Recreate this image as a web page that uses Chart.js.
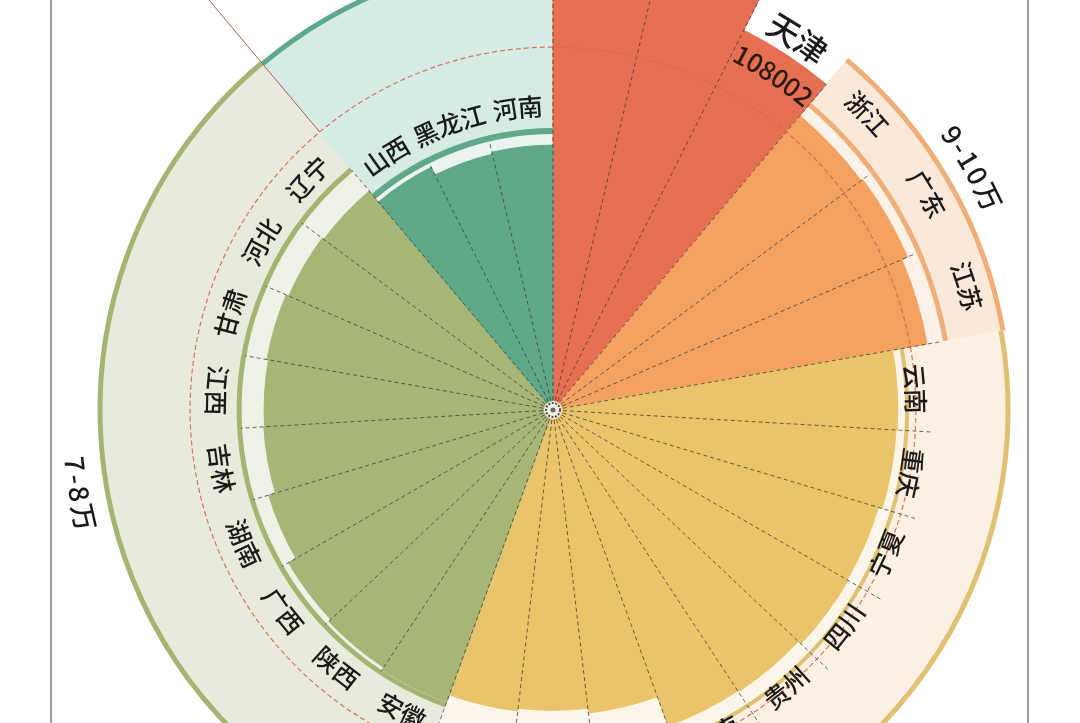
<!DOCTYPE html>
<html><head><meta charset="utf-8">
<script src="https://cdn.jsdelivr.net/npm/chart.js@4.4.1/dist/chart.umd.min.js"></script>
<style>
html,body{margin:0;padding:0;width:1080px;height:723px;overflow:hidden;background:#fff;}
#wrap{position:absolute;left:0;top:-143px;width:1106px;height:1106px;}
.vline{position:absolute;top:0;width:2px;height:723px;background:#9c9c9c;}
</style></head>
<body>
<div id="wrap"><canvas id="c" width="1106" height="1106"></canvas></div>
<div class="vline" style="left:50px"></div>
<div class="vline" style="left:1027px"></div>
<script>
// ---- data ----
const provinces = ['北京','上海','天津','浙江','广东','江苏','云南','重庆','宁夏','四川','贵州','海南','湖北','山东','福建','安徽','陕西','广西','湖南','吉林','江西','甘肃','河北','辽宁','山西','黑龙江','河南'];
const wages = [178178,174678,108002,97600,98100,96500,87600,87300,86300,86600,85700,85400,77500,76300,77000,79000,78300,77600,75400,73600,73400,73800,73100,72600,69000,66800,67300];
const groupOf = [0,0,0,1,1,1,2,2,2,2,2,2,2,2,2,3,3,3,3,3,3,3,3,3,4,4,4];
const groupNames = ['10万以上','9-10万','8-9万','7-8万','6-7万'];
const groupTrack = [0,101000,89700,79500,70600];     // inner ring of each group band
const groupBand = [0,116100,115600,115100,114800];   // outer ring of each group band
const groupLineTo = [0,99600,96500,79500,70100];     // reach of the separators
const averageLine = 92200;
const scaleMax = 140500;

// ---- styles ----
const fillColors = ['#e76f51','#f4a261','#e9c46a','#a6b676','#5fa887'];
const trackColors = ['#ffffff','#fdf2e8','#fcf5ea','#eff1e7','#e9f4f1'];
const bandColors = ['#ffffff','#fae8d9','#fbf0e1','#e8ebdc','#d6eae6'];
const arcColors = ['#e76f51','#efae78','#e0c072','#a4b572','#5fa98a'];
const labelR = [null,432,363,337,304];
const FONT = '"Noto Sans CJK SC","Noto Sans",sans-serif';

function arcText(ctx, cx, cy, text, thetaDeg, r, size, color, spacing) {
  ctx.save();
  ctx.font = '500 ' + size + 'px ' + FONT;
  ctx.fillStyle = color;
  ctx.textAlign = 'center';
  ctx.textBaseline = 'middle';
  const th = ((thetaDeg % 360) + 360) % 360;
  const flip = th > 105 && th < 280;
  const chars = [...text];
  const w = chars.map(ch => ctx.measureText(ch).width);
  const total = w.reduce((a, b) => a + b, 0) + spacing * (chars.length - 1);
  const dir = flip ? -1 : 1;
  let s = -total / 2;
  chars.forEach((ch, i) => {
    const mid = s + w[i] / 2;
    const ang = th * Math.PI / 180 + dir * mid / r;
    const x = cx + r * Math.sin(ang), y = cy - r * Math.cos(ang);
    ctx.save();
    ctx.translate(x, y);
    ctx.rotate(ang + (flip ? Math.PI : 0));
    ctx.fillText(ch, 0, 0);
    ctx.restore();
    s += w[i] + spacing;
  });
  ctx.restore();
}

const decor = {
  id: 'decor',
  afterDatasetsDraw(chart) {
    const ctx = chart.ctx;
    const s = chart.scales.r;
    const cx = s.xCenter, cy = s.yCenter;
    const R = v => s.getDistanceFromCenterForValue(v);
    const n = provinces.length;
    const step = 2 * Math.PI / n;
    const a0 = -Math.PI / 2;
    const groups = [];
    groupOf.forEach((g, i) => {
      if (!groups[g]) groups[g] = { start: i, end: i + 1 };
      else groups[g].end = i + 1;
    });
    ctx.save();
    // rings
    groups.forEach((gr, g) => {
      if (g === 0) return;
      const sa = a0 + gr.start * step, ea = a0 + gr.end * step;
      ctx.strokeStyle = arcColors[g];
      ctx.lineWidth = g === 4 ? 6 : (g === 2 ? 4 : 5);
      ctx.beginPath(); ctx.arc(cx, cy, R(groupTrack[g]) + 1, sa, ea); ctx.stroke();
      ctx.lineWidth = 5;
      ctx.beginPath(); ctx.arc(cx, cy, R(groupBand[g]), sa, ea); ctx.stroke();
    });
    // separators
    const reach = j => groupOf[j] === 0 ? R(wages[j]) : R(groupLineTo[groupOf[j]]);
    ctx.setLineDash([4, 3]);
    ctx.lineWidth = 1;
    ctx.strokeStyle = 'rgba(55,55,55,0.75)';
    for (let i = 0; i < n; i++) {
      const prev = (i - 1 + n) % n;
      const rr = Math.max(reach(prev), reach(i));
      const a = a0 + i * step;
      ctx.beginPath();
      ctx.moveTo(cx + 10 * Math.cos(a), cy + 10 * Math.sin(a));
      ctx.lineTo(cx + rr * Math.cos(a), cy + rr * Math.sin(a));
      ctx.stroke();
    }
    // average circle
    ctx.setLineDash([5, 3]);
    ctx.strokeStyle = 'rgba(222,100,80,0.9)';
    ctx.lineWidth = 1.2;
    ctx.beginPath(); ctx.arc(cx, cy, R(averageLine), 0, 2 * Math.PI); ctx.stroke();
    ctx.setLineDash([]);
    // leader line between groups
    const la = a0 + groups[4].start * step;
    ctx.strokeStyle = '#b65a4c';
    ctx.lineWidth = 1;
    ctx.beginPath();
    ctx.moveTo(cx + R(averageLine) * Math.cos(la), cy + R(averageLine) * Math.sin(la));
    ctx.lineTo(cx + R(scaleMax * 1.6) * Math.cos(la), cy + R(scaleMax * 1.6) * Math.sin(la));
    ctx.stroke();
    // center
    ctx.fillStyle = '#f3efe6';
    ctx.beginPath(); ctx.arc(cx, cy, 9, 0, 2 * Math.PI); ctx.fill();
    ctx.setLineDash([2, 1.5]);
    ctx.strokeStyle = '#4a4a4a'; ctx.lineWidth = 2;
    ctx.beginPath(); ctx.arc(cx, cy, 7, 0, 2 * Math.PI); ctx.stroke();
    ctx.setLineDash([]);
    ctx.fillStyle = '#666';
    ctx.beginPath(); ctx.arc(cx, cy, 2.5, 0, 2 * Math.PI); ctx.fill();
    ctx.restore();
    // labels
    provinces.forEach((p, i) => {
      const g = groupOf[i];
      const th = (i + 0.5) * 360 / n;
      if (g === 0) {
        arcText(ctx, cx, cy, p, th, R(wages[i]) + 20, 32, '#1a1a1a', 0);
        arcText(ctx, cx, cy, String(wages[i]), th, R(wages[i]) - 23, 26, '#2a1a14', 0);
      } else {
        arcText(ctx, cx, cy, p, th, labelR[g], 25, '#1a1a1a', 0);
      }
    });
    groups.forEach((gr, g) => {
      const th = (gr.start + gr.end) / 2 * 360 / n;
      const r = g === 0 ? R(wages[0]) + 60 : R(groupBand[g]) + 28;
      arcText(ctx, cx, cy, groupNames[g], th, r, 27, '#1a1a1a', 2.5);
    });
  }
};

const colorBy = arr => wages.map((_, i) => arr[groupOf[i]]);
new Chart(document.getElementById('c'), {
  type: 'polarArea',
  data: {
    labels: provinces,
    datasets: [
      { label: '平均工资', data: wages, backgroundColor: colorBy(fillColors), borderColor: colorBy(fillColors), borderWidth: 1, order: 0 },
      { label: 'track', data: wages.map((v, i) => groupOf[i] === 0 ? 0 : groupTrack[groupOf[i]]), backgroundColor: colorBy(trackColors), borderColor: colorBy(trackColors), borderWidth: 1, order: 1 },
      { label: 'band', data: wages.map((v, i) => groupBand[groupOf[i]]), backgroundColor: colorBy(bandColors), borderColor: colorBy(bandColors), borderWidth: 1, order: 2 }
    ]
  },
  options: {
    responsive: false,
    animation: false,
    layout: { padding: 0 },
    plugins: { legend: { display: false }, tooltip: { enabled: false } },
    scales: {
      r: {
        display: true, min: 0, max: scaleMax,
        ticks: { display: false },
        grid: { display: false },
        angleLines: { display: false },
        pointLabels: { display: false }
      }
    }
  },
  plugins: [decor]
});
</script>
</body></html>
